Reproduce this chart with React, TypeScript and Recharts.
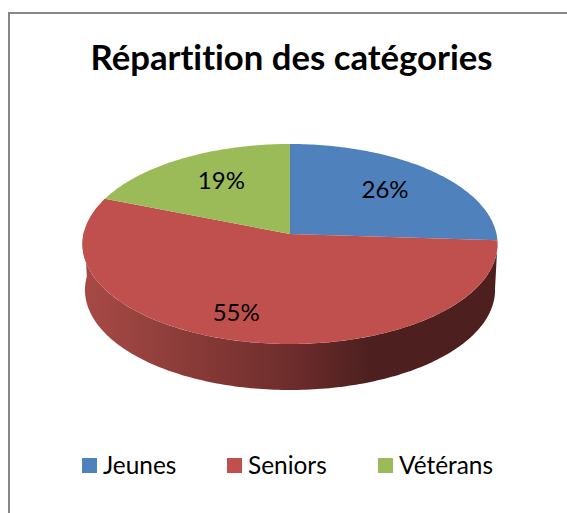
import { PieChart, Pie, Legend } from "recharts";

const categories = ["Jeunes", "Seniors", "Vétérans"];
const shares = [26, 55, 19];
const sliceColors = ["#4f81bd", "#c0504d", "#9bbb59"];

const data = categories.map((name, i) => ({ name, value: shares[i], fill: sliceColors[i] }));

const FONT = "Lato, Carlito, Calibri, sans-serif";
const WIDTH = 567;
const HEIGHT = 513;
const CX = 290;
const CY = 234;

// tilted disc seen in perspective: nearer edge is drawn larger
const RX = 206.5;
const RY = 99;
const TILT = 0.1;
const DEPTH = 46;

// clockwise degrees from 12 o'clock, the way the sectors run on screen
function project(clockDeg: number, r: number, scale = 1, drop = 0) {
  const t = (clockDeg * Math.PI) / 180;
  const x = Math.sin(t) * r;
  const y = -Math.cos(t) * r;
  const w = 1 - TILT * y;
  return [CX + (RX * scale * x) / w, CY + drop + (RY * y) / w];
}

function arcPoints(from: number, to: number, scale = 1, drop = 0) {
  const steps = Math.max(2, Math.ceil(Math.abs(to - from)));
  const pts: number[][] = [];
  for (let i = 0; i <= steps; i++) {
    pts.push(project(from + ((to - from) * i) / steps, 1, scale, drop));
  }
  return pts;
}

const toPath = (pts: number[][]) =>
  "M" + pts.map((p) => p[0].toFixed(2) + " " + p[1].toFixed(2)).join("L") + "Z";

function TopSlice(props: any) {
  const from = 90 - props.startAngle;
  const to = 90 - props.endAngle;
  const pts = [[CX, CY], ...arcPoints(from, to)];
  return <path d={toPath(pts)} fill={props.payload?.fill ?? props.fill} />;
}

function WallSlice(props: any) {
  // only the front of the rim shows
  const from = Math.max(90 - props.startAngle, 95);
  const to = Math.min(90 - props.endAngle, 272);
  if (to <= from) return <g />;
  const top = arcPoints(from, to);
  const bottom = arcPoints(to, from, 0.988, DEPTH);
  return <path d={toPath([...top, ...bottom])} fill="url(#wall-shade)" />;
}

function percentLabel(props: any) {
  const clock = 90 - props.midAngle;
  const [x, y] = project(clock, 0.66);
  // labels sit a little off the slice middle in the original
  const nudgeX = [0, -22, 4][props.index];
  const nudgeY = [-3, 9, -3][props.index];
  return (
    <text
      x={x + nudgeX}
      y={y + nudgeY}
      textAnchor="middle"
      dominantBaseline="central"
      fontFamily={FONT}
      fontSize={24}
      fill="#000"
    >
      {Math.round(props.percent * 100)}%
    </text>
  );
}

function LegendRow({ payload }: any) {
  // both pies report their sectors, keep one entry per category
  const items = (payload ?? []).filter(
    (item: any, i: number, all: any[]) => all.findIndex((o) => o.value === item.value) === i
  );
  const slotWidths = [145, 151, 130];
  return (
    <div style={{ display: "flex", fontFamily: FONT, fontSize: 24.4, color: "#000", lineHeight: "28px" }}>
      {items.map((item: any, i: number) => (
        <span key={item.value} style={{ display: "flex", alignItems: "center", width: slotWidths[i] }}>
          <span style={{ width: 15, height: 15, background: item.color, marginRight: 6, display: "inline-block" }} />
          {item.value}
        </span>
      ))}
    </div>
  );
}

export default function App() {
  return (
    <div style={{ position: "absolute", left: 0, top: 0, width: WIDTH, height: HEIGHT, overflow: "hidden", background: "#fff" }}>
      <div
        style={{
          position: "absolute",
          left: 8,
          top: 12,
          width: WIDTH,
          height: HEIGHT,
          borderLeft: "2px solid #868686",
          borderTop: "2px solid #868686",
        }}
      />
      <PieChart width={WIDTH} height={HEIGHT} margin={{ top: 0, right: 0, bottom: 0, left: 0 }} style={{ position: "absolute", left: 0, top: 0 }}>
        <defs>
          <linearGradient id="wall-shade" gradientUnits="userSpaceOnUse" x1={82} y1={0} x2={497} y2={0}>
            <stop offset="0%" stopColor="#a84a46" />
            <stop offset="52%" stopColor="#6b2c2b" />
            <stop offset="69%" stopColor="#4d201f" />
            <stop offset="100%" stopColor="#4d201f" />
          </linearGradient>
        </defs>
        <text
          x={291.5}
          y={70}
          textAnchor="middle"
          fontFamily={FONT}
          fontWeight={700}
          fontSize={34.7}
          fill="#000"
          style={{ fontVariantLigatures: "none" }}
        >
          Répartition des catégories
        </text>
        <Pie
          data={data}
          dataKey="value"
          nameKey="name"
          cx={CX}
          cy={CY}
          outerRadius={RX}
          startAngle={90}
          endAngle={-270}
          stroke="none"
          legendType="none"
          shape={WallSlice}
          isAnimationActive={false}
        />
        <Pie
          data={data}
          dataKey="value"
          nameKey="name"
          cx={CX}
          cy={CY}
          outerRadius={RX}
          startAngle={90}
          endAngle={-270}
          stroke="none"
          legendType="square"
          shape={TopSlice}
          label={percentLabel}
          labelLine={false}
          isAnimationActive={false}
        />
        <Legend
          content={<LegendRow />}
          wrapperStyle={{ left: 82, top: 451, width: 460, bottom: "auto" }}
        />
      </PieChart>
    </div>
  );
}
